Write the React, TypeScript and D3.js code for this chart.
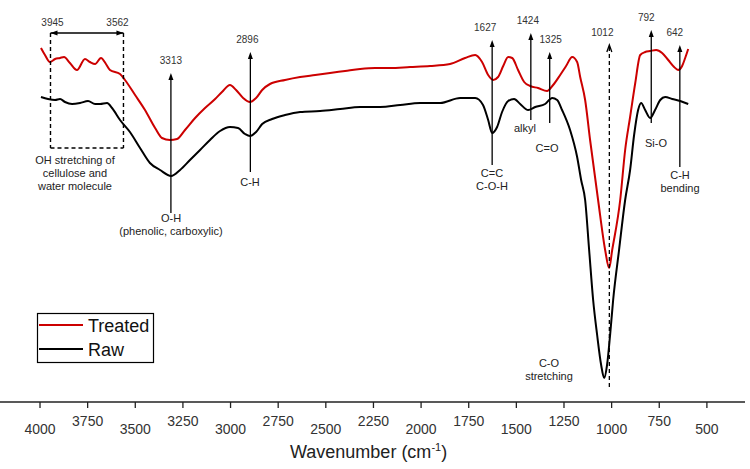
import React from "react";
import * as d3 from "d3";

// Wavenumbers (cm-1) and transmittance (arbitrary units)
const treatedWn = [3995, 3974, 3948, 3921, 3895, 3874, 3843, 3806, 3764, 3738, 3711, 3680, 3654, 3633, 3580, 3554, 3501, 3449, 3396, 3360, 3318, 3281, 3239, 3186, 3134, 3081, 3045, 3003, 2971, 2934, 2898, 2866, 2834, 2793, 2714, 2635, 2556, 2478, 2399, 2320, 2241, 2163, 2058, 1953, 1848, 1769, 1716, 1680, 1648, 1622, 1596, 1569, 1543, 1522, 1491, 1459, 1428, 1386, 1339, 1307, 1270, 1239, 1207, 1181, 1165, 1139, 1113, 1071, 1034, 1013, 997, 955, 929, 903, 876, 850, 824, 798, 766, 735, 703, 672, 651, 630, 614, 598];
const treatedT = [176, 172.5, 169, 170.5, 171, 171.5, 168.5, 165, 170.5, 169, 168, 171, 168, 165, 163, 160, 152.5, 145, 136, 131, 130, 130.5, 135, 141, 146, 150.5, 154, 157.5, 155, 151, 149, 151, 155, 158, 160, 161.5, 162.5, 163.5, 164.5, 165.5, 166, 166, 166.5, 167, 168, 171, 172.5, 169, 162.5, 160, 161.5, 167, 171.5, 171, 165, 159, 157, 156, 154.5, 157.5, 162.5, 167, 171.5, 169, 161.5, 150, 130, 100, 75, 66, 75, 100, 125, 141.5, 158.5, 172.5, 174, 174.5, 175, 173.5, 170, 166.5, 165, 167, 171, 175.5];

const rawWn = [3995, 3958, 3921, 3895, 3869, 3832, 3790, 3748, 3711, 3685, 3648, 3622, 3580, 3528, 3475, 3423, 3370, 3312, 3265, 3213, 3160, 3108, 3055, 3003, 2961, 2924, 2898, 2866, 2834, 2782, 2714, 2635, 2530, 2425, 2320, 2215, 2110, 2005, 1900, 1795, 1716, 1675, 1648, 1627, 1601, 1575, 1543, 1512, 1480, 1438, 1401, 1349, 1312, 1286, 1260, 1218, 1181, 1160, 1139, 1118, 1097, 1076, 1055, 1039, 1024, 1008, 992, 961, 929, 903, 882, 861, 845, 824, 798, 772, 745, 719, 682, 640, 598];
const rawT = [151.5, 150.5, 150, 150.5, 149, 148, 148.5, 149.5, 148, 148, 148.5, 146, 140, 134, 126, 118.5, 115, 112, 115, 120, 125, 130, 134.5, 136.5, 136, 133, 132, 134, 138, 140.5, 142.5, 144, 144.5, 145.5, 146.5, 146.5, 147.5, 148.5, 148.5, 151, 151, 147.5, 140, 133.5, 136.5, 144, 149.5, 150.5, 148, 145, 146.5, 148, 151, 150, 145, 135, 121.5, 110, 100, 75, 50, 32.5, 17.5, 11, 17.5, 32.5, 50, 75, 100, 115, 132.5, 145, 148.5, 145, 141, 145, 150, 151.5, 150.5, 149.5, 148];

const xTicks = [4000, 3750, 3500, 3250, 3000, 2750, 2500, 2250, 2000, 1750, 1500, 1250, 1000, 750, 500];

const seriesNames = ["Treated", "Raw"];

// peak markers: wavenumber, label, arrow top / bottom (transmittance units)
const peakWn = [3313, 2896, 1627, 1424, 1325, 792, 642];
const peakTop = [163.5, 174, 180, 183.5, 174, 185, 177.5];
const peakBottom = [93.5, 114, 117.5, 140, 138.5, 138.5, 116.5];
const peakLabelDx = [0, -3, -7, -3, 1, -5, -5];
const peakNotes = [
  ["O-H", "(phenolic, carboxylic)"],
  ["C-H"],
  ["C=C", "C-O-H"],
  ["alkyl"],
  ["C=O"],
  ["Si-O"],
  ["C-H", "bending"],
];
const noteX = [171, 250, 492, 525, 547, 656, 680];
const noteY = [218, 182, 173, 128, 148, 143, 175];

const W = 750;
const H = 469;

export default function App() {
  const x = d3.scaleLinear().domain([4210, 300]).range([0, 745]);
  const y = d3.scaleLinear().domain([0, 190]).range([400, 20]);
  const line = d3
    .line<[number, number]>()
    .x((d) => x(d[0]))
    .y((d) => y(d[1]))
    .curve(d3.curveMonotoneX);

  const treated: [number, number][] = treatedWn.map((w, i) => [w, treatedT[i]]);
  const raw: [number, number][] = rawWn.map((w, i) => [w, rawT[i]]);

  const font = "Arial, 'Liberation Sans', sans-serif";
  const red = "#cc0000";
  const txt = "#222";

  const arrowUp = (cx: number, cy: number) =>
    `M${cx},${cy} L${cx - 2.5},${cy + 7} L${cx + 2.5},${cy + 7} Z`;

  const boxL = x(3945);
  const boxR = x(3562);
  const boxT = 33;
  const boxB = 148;
  const dashX = x(1012);

  return (
    <div style={{ position: "absolute", left: 0, top: 0 }}>
      <svg width={W} height={H} style={{ display: "block", background: "#fff" }} fontFamily={font}>
        <rect width={W} height={H} fill="#fff" />
        {/* curves */}
        <path d={line(raw) || ""} fill="none" stroke="#000" strokeWidth={2} />
        <path d={line(treated) || ""} fill="none" stroke={red} strokeWidth={2} />

        {/* OH stretching box */}
        <g stroke="#000" strokeWidth={1.4} fill="none">
          <line x1={boxL} y1={boxT} x2={boxL} y2={boxB} strokeDasharray="4,3" />
          <line x1={boxR} y1={boxT} x2={boxR} y2={boxB} strokeDasharray="4,3" />
          <line x1={boxL} y1={boxB} x2={boxR} y2={boxB} strokeDasharray="4,3" />
          <line x1={boxL} y1={boxT} x2={boxR} y2={boxT} />
        </g>
        <path d={`M${boxL},${boxT} L${boxL + 7},${boxT - 2.5} L${boxL + 7},${boxT + 2.5} Z`} fill="#000" />
        <path d={`M${boxR},${boxT} L${boxR - 7},${boxT - 2.5} L${boxR - 7},${boxT + 2.5} Z`} fill="#000" />
        <text x={boxL + 2} y={26} fontSize={10} fill="#333" textAnchor="middle">3945</text>
        <text x={boxR - 6} y={26} fontSize={10} fill="#333" textAnchor="middle">3562</text>
        {["OH stretching of", "cellulose and", "water molecule"].map((s, i) => (
          <text key={s} x={(boxL + boxR) / 2 - 12} y={164 + i * 13} fontSize={11} fill={txt} textAnchor="middle">
            {s}
          </text>
        ))}

        {/* peak arrows */}
        {peakWn.map((w, i) => {
          const px = x(w);
          const top = y(peakTop[i]);
          const bot = y(peakBottom[i]);
          return (
            <g key={w}>
              <line x1={px} y1={top + 3} x2={px} y2={bot} stroke="#000" strokeWidth={1.3} />
              <path d={arrowUp(px, top)} fill="#000" />
              <text x={px + peakLabelDx[i]} y={top - 9} fontSize={10} fill="#333" textAnchor="middle">
                {String(w)}
              </text>
            </g>
          );
        })}
        {peakNotes.map((lines, i) =>
          lines.map((s, j) => (
            <text key={`${i}-${j}`} x={noteX[i]} y={noteY[i] + 4 + j * 13} fontSize={11} fill={txt} textAnchor="middle">
              {s}
            </text>
          ))
        )}

        {/* 1012 dashed marker */}
        <line x1={dashX} y1={47} x2={dashX} y2={390} stroke="#000" strokeWidth={1.3} strokeDasharray="4,3" />
        <path d={`M${dashX - 2.5},${52} L${dashX},${45} L${dashX + 2.5},${52}`} fill="none" stroke="#000" strokeWidth={1.3} />
        <text x={dashX - 7} y={36} fontSize={10} fill="#333" textAnchor="middle">1012</text>
        {["C-O", "stretching"].map((s, j) => (
          <text key={s} x={549} y={367 + j * 13} fontSize={11} fill={txt} textAnchor="middle">
            {s}
          </text>
        ))}

        {/* legend */}
        <rect x={37.5} y={313.5} width={116} height={49} fill="#fff" stroke="#000" strokeWidth={1.2} />
        {seriesNames.map((s, i) => (
          <g key={s}>
            <line x1={39} x2={83} y1={325 + i * 24} y2={325 + i * 24} stroke={i === 0 ? red : "#000"} strokeWidth={2} />
            <text x={88} y={332 + i * 24} fontSize={18} fill="#111">
              {s}
            </text>
          </g>
        ))}

        {/* x axis */}
        <line x1={0} x2={745} y1={402} y2={402} stroke="#222" strokeWidth={1.3} />
        {xTicks.map((t, i) => (
          <g key={t}>
            <line x1={x(t)} x2={x(t)} y1={402} y2={408} stroke="#222" strokeWidth={1.3} />
            <text x={x(t)} y={i % 2 === 0 ? 434 : 426} fontSize={14} fill="#333" textAnchor="middle">
              {String(t)}
            </text>
          </g>
        ))}
        <text x={290} y={458} fontSize={18} fill="#222">
          Wavenumber (cm
          <tspan dy={-7} fontSize={11}>-1</tspan>
          <tspan dy={7}>)</tspan>
        </text>
      </svg>
    </div>
  );
}
